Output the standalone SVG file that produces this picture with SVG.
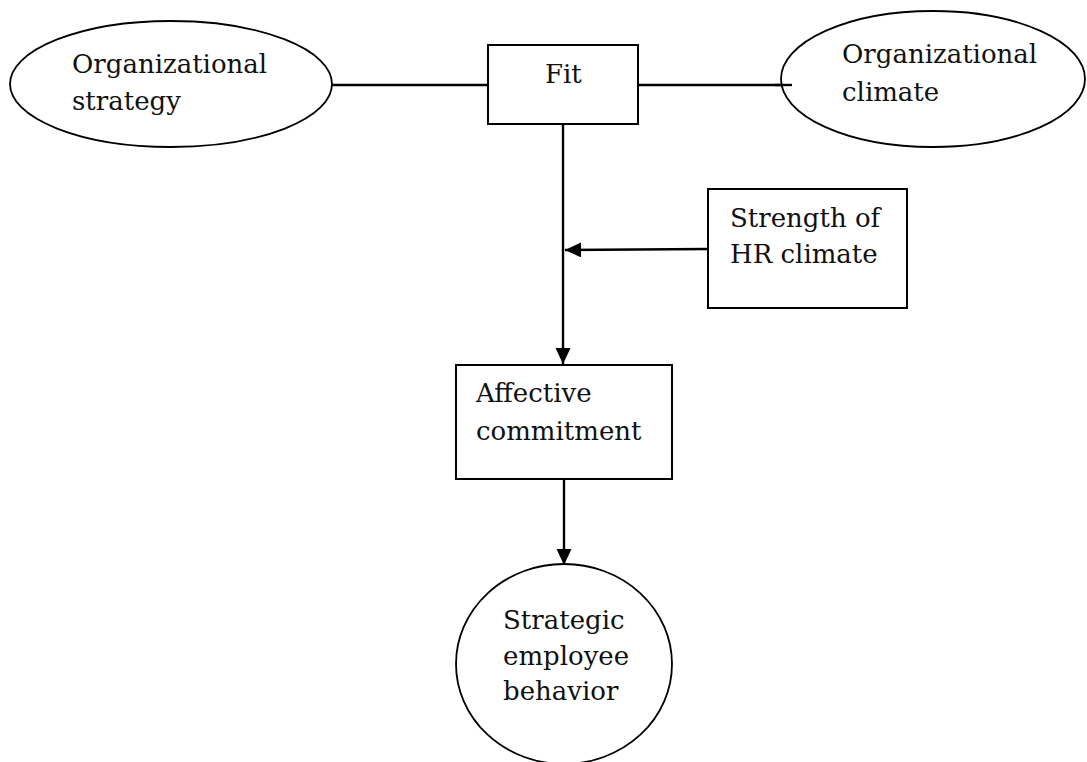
<svg xmlns="http://www.w3.org/2000/svg" width="1087" height="762" viewBox="0 0 1087 762">
<style>
.shape{fill:#fff;stroke:#000;stroke-width:2}
.ell{fill:#fff;stroke:#000;stroke-width:1.8}
.lbl{font-family:"DejaVu Serif","Liberation Serif",serif;font-size:26px;fill:#111}
.conn{stroke:#000;stroke-width:2.4;fill:none}
</style>
<defs>
<marker id="arr" markerUnits="userSpaceOnUse" markerWidth="18" markerHeight="18" refX="16" refY="7.5" orient="auto">
<path d="M0,0 L16,7.5 L0,15 z" fill="#000"/>
</marker>
</defs>
<rect width="1087" height="762" fill="#fff"/>
<g id="connectors">
<line class="conn" x1="332" y1="85" x2="488" y2="85"/>
<line class="conn" x1="638" y1="85" x2="792" y2="85"/>
<line class="conn" x1="563" y1="124" x2="563" y2="364" marker-end="url(#arr)"/>
<line class="conn" x1="708" y1="249" x2="565" y2="250" marker-end="url(#arr)"/>
<line class="conn" x1="564" y1="479" x2="564" y2="565" marker-end="url(#arr)"/>
</g>
<g id="org-strategy">
<ellipse class="ell" cx="171" cy="84" rx="161" ry="63"/>
<text class="lbl" x="72" y="73">Organizational</text>
<text class="lbl" x="72" y="110">strategy</text>
</g>
<g id="fit">
<rect class="shape" x="488" y="45" width="150" height="79"/>
<text class="lbl" x="545" y="83">Fit</text>
</g>
<g id="org-climate">
<ellipse class="ell" cx="933" cy="79" rx="152" ry="68"/>
<line class="conn" x1="775" y1="85" x2="792" y2="85"/>
<text class="lbl" x="842" y="63">Organizational</text>
<text class="lbl" x="842" y="101">climate</text>
</g>
<g id="hr-strength">
<rect class="shape" x="708" y="189" width="199" height="119"/>
<text class="lbl" x="730" y="227">Strength of</text>
<text class="lbl" x="730" y="263">HR climate</text>
</g>
<g id="affective">
<rect class="shape" x="456" y="365" width="216" height="114"/>
<text class="lbl" x="476" y="402">Affective</text>
<text class="lbl" x="476" y="440">commitment</text>
</g>
<g id="behavior">
<ellipse class="ell" cx="564" cy="664" rx="108" ry="100"/>
<text class="lbl" x="503" y="629">Strategic</text>
<text class="lbl" x="503" y="665">employee</text>
<text class="lbl" x="503" y="700">behavior</text>
</g>
</svg>
